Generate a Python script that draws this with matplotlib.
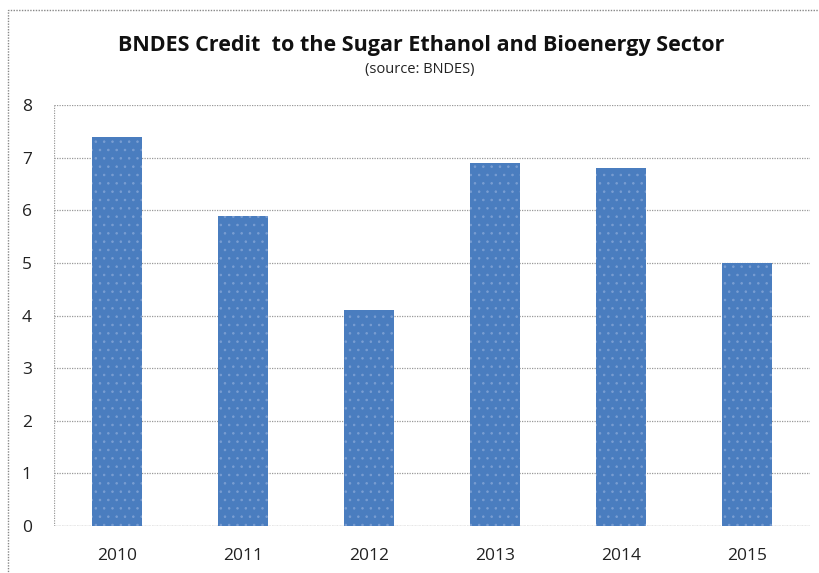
import matplotlib.pyplot as plt
from matplotlib.patches import Rectangle

# data
years = ['2010', '2011', '2012', '2013', '2014', '2015']
credit = [7.4, 5.9, 4.1, 6.9, 6.8, 5.0]

plt.rcParams['font.family'] = ['Open Sans', 'DejaVu Sans']
plt.rcParams['hatch.linewidth'] = 0.6

fig = plt.figure(figsize=(8.2, 5.73), dpi=100)
ax = fig.add_axes([54/820, 1-526/573, 756/820, 421/573])

x = range(len(years))
ax.bar(x, credit, width=0.4, color='#4a7dbf', edgecolor='#7a9ed2', hatch='..', linewidth=0, zorder=3)

ax.set_xlim(-0.5, len(years)-0.5)
ax.set_ylim(0, 8)
ax.set_yticks(range(0, 9))
ax.set_xticks(list(x))
ax.set_xticklabels(years)
ax.tick_params(axis='both', length=0, labelsize=12.5, colors='#222222')
ax.tick_params(axis='x', pad=16)
ax.tick_params(axis='y', pad=16)
ax.grid(True, axis='y', color='#999999', linestyle=(0, (1, 1)), linewidth=0.9, zorder=0)
for s in ax.spines.values():
    s.set_visible(False)
ax.axhline(0, color='#999999', linestyle=(0, (2, 1)), linewidth=0.9, zorder=1)
ax.axvline(-0.5, color='#999999', linestyle=(0, (1, 1)), linewidth=0.9, zorder=1)

fig.text(421/820, 1-45/573, 'BNDES Credit  to the Sugar Ethanol and Bioenergy Sector',
         ha='center', va='center', fontsize=15.5, fontweight='bold', color='#111111')
fig.text(420/820, 1-70/573, '(source: BNDES)', ha='center', va='center', fontsize=10.5, color='#222222')

# outer frame
fig.patches.append(Rectangle((8/820, -0.02), 1.1, 1-10/573+0.02, transform=fig.transFigure,
                             fill=False, edgecolor='#888888', linestyle=(0, (1, 1)), linewidth=1))

fig.savefig('out.png', dpi=100)
